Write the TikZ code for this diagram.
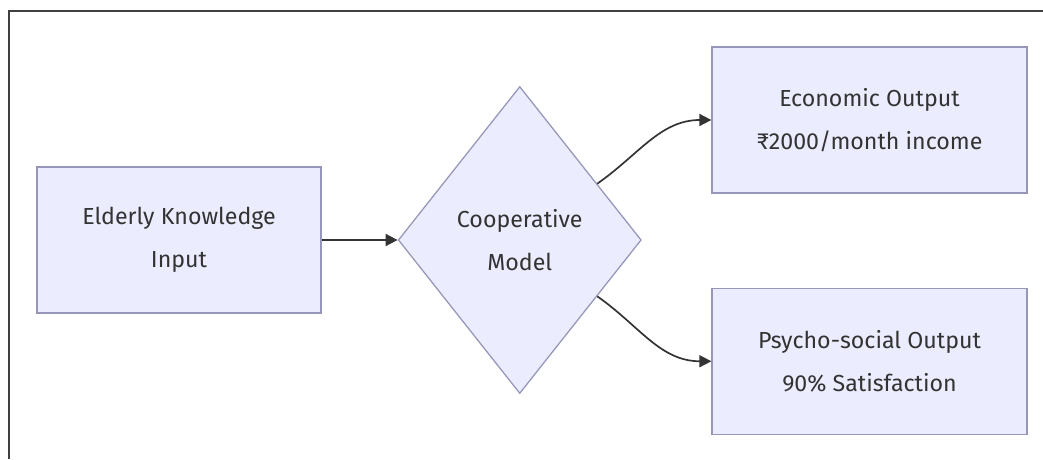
\documentclass[tikz,border=0pt]{standalone}
\usepackage{fontspec}
\setmainfont{Fira Sans}
\usetikzlibrary{shapes.geometric}
\usetikzlibrary{arrows.meta}
\usetikzlibrary{positioning}

\definecolor{boxfill}{HTML}{ECECFF}
\definecolor{boxline}{RGB}{150,150,185}
\definecolor{labeltext}{HTML}{333333}

\begin{document}
\begin{tikzpicture}[
  flowbox/.style={rectangle,draw=boxline,fill=boxfill,line width=0.9pt,minimum height=3.65cm,align=center,text=labeltext,font=\fontsize{16.5}{30.5}\selectfont},
  decision/.style={diamond,draw=boxline,fill=boxfill,line width=0.9pt,inner sep=0pt,minimum width=6.075cm,minimum height=7.675cm,align=center,text=labeltext,font=\fontsize{16.5}{30.5}\selectfont},
  flowarrow/.style={draw=black!80,line width=1.2pt,-{Triangle[length=8.5pt,width=8.5pt]}}
]
\useasboundingbox (0,0) rectangle (26.075,11.475);
\draw[black!75,line width=0.8pt] (0.225,0) -- (0.225,11.2) -- (26.075,11.2);

\node[flowbox,minimum width=7.1cm] (input) at (4.475,5.475) {Elderly Knowledge\\Input};
\node[decision,right=1.9cm of input] (coop) {Cooperative\\Model};
\node[flowbox,minimum width=7.875cm] (econ) at (21.7375,8.475) {Economic Output\\₹2000/month income};
\node[flowbox,minimum width=7.875cm,below=2.35cm of econ] (psych) {Psycho-social Output\\90\% Satisfaction};

\draw[flowarrow] (input) -- (coop);
\draw[flowarrow] (coop.36) to[out=35,in=180] (econ.west);
\draw[flowarrow] (coop.-36) to[out=-35,in=180] (psych.west);

\end{tikzpicture}
\end{document}
